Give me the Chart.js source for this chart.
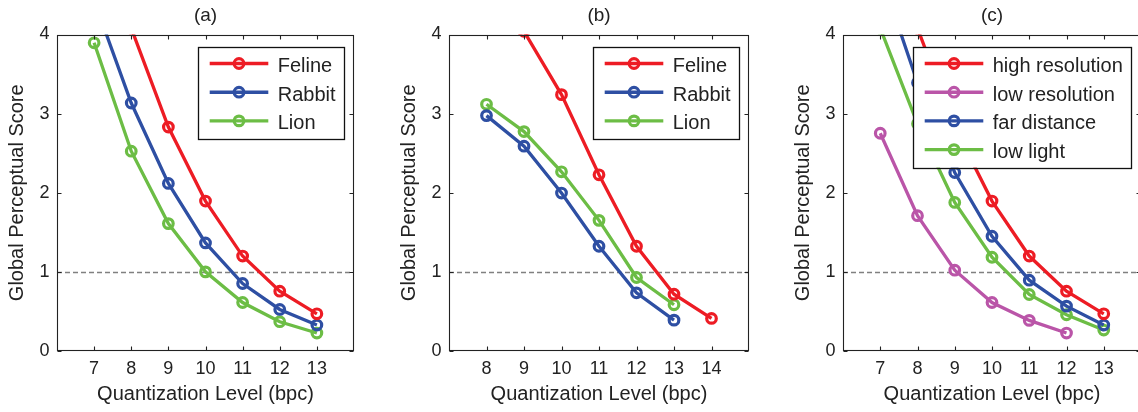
<!DOCTYPE html>
<html><head><meta charset="utf-8">
<script src="https://cdn.jsdelivr.net/npm/chart.js@4.4.1/dist/chart.umd.min.js"></script>
<style>
html,body{margin:0;padding:0;width:1138px;height:412px;overflow:hidden;background:#fff;}
canvas{position:absolute;top:0;}
</style></head><body>
<canvas id="ca" style="left:0px" width="364" height="412"></canvas>
<canvas id="cb" style="left:392px" width="367" height="412"></canvas>
<canvas id="cc" style="left:786px" width="365" height="412"></canvas>
<script>
// ---- data ----
const panelTitles = ['(a)', '(b)', '(c)'];
const xAxisTitle = 'Quantization Level (bpc)';
const yAxisTitle = 'Global Perceptual Score';
const yTicks = [0, 1, 2, 3, 4];
const xTicksA = [7, 8, 9, 10, 11, 12, 13];
const xTicksB = [8, 9, 10, 11, 12, 13, 14];
const xTicksC = [7, 8, 9, 10, 11, 12, 13];
const xRangeA = [6, 14];
const xRangeB = [7, 15];
const xRangeC = [6, 14];
const threshold = 1;

// panel (a)
const labelsA = ['Feline', 'Rabbit', 'Lion'];
const felineA_x = [8, 9, 10, 11, 12, 13];
const felineA_y = [4.08, 2.83, 1.895, 1.20, 0.756, 0.47];
const rabbitA_x = [7, 8, 9, 10, 11, 12, 13];
const rabbitA_y = [4.43, 3.134, 2.118, 1.366, 0.853, 0.525, 0.328];
const lionA_x = [7, 8, 9, 10, 11, 12, 13];
const lionA_y = [3.895, 2.525, 1.61, 1.0, 0.613, 0.37, 0.227];

// panel (b)
const labelsB = ['Feline', 'Rabbit', 'Lion'];
const felineB_x = [9, 10, 11, 12, 13, 14];
const felineB_y = [4.04, 3.24, 2.227, 1.324, 0.718, 0.412];
const rabbitB_x = [8, 9, 10, 11, 12, 13];
const rabbitB_y = [2.975, 2.588, 1.996, 1.324, 0.735, 0.39];
const lionB_x = [8, 9, 10, 11, 12, 13];
const lionB_y = [3.118, 2.773, 2.265, 1.651, 0.929, 0.584];

// panel (c)
const labelsC = ['high resolution', 'low resolution', 'far distance', 'low light'];
const highRes_x = [8, 9, 10, 11, 12, 13];
const highRes_y = [4.08, 2.83, 1.895, 1.20, 0.756, 0.47];
const lowRes_x = [7, 8, 9, 10, 11, 12];
const lowRes_y = [2.752, 1.71, 1.021, 0.613, 0.387, 0.227];
const farDist_x = [7, 8, 9, 10, 11, 12, 13];
const farDist_y = [4.78, 3.39, 2.256, 1.45, 0.895, 0.567, 0.328];
const lowLight_x = [7, 8, 9, 10, 11, 12, 13];
const lowLight_y = [4.08, 2.872, 1.878, 1.185, 0.714, 0.458, 0.265];

// ---- styles ----
const RED = '#ED1C24', BLUE = '#2E4FA3', GREEN = '#6CBD45', MAGENTA = '#BA55A8';
const FONT = '"Liberation Sans", Arial, Helvetica, sans-serif';
Chart.defaults.font.family = FONT;
Chart.defaults.color = '#222';

function series(label, xs, ys, color) {
  return {
    label, borderColor: color, backgroundColor: color,
    data: xs.map((x, i) => ({x: x, y: ys[i]})),
    borderWidth: 3.3, tension: 0, clip: 0,
    pointRadius: 4.8, pointBorderWidth: 3.2,
    pointBackgroundColor: 'rgba(0,0,0,0)', pointBorderColor: color
  };
}

const framePlugin = {
  id: 'frame',
  beforeDatasetsDraw(chart) {
    const ctx = chart.ctx, ca = chart.chartArea, y = chart.scales.y;
    const py = Math.round(y.getPixelForValue(threshold)) + 0.5;
    ctx.save();
    ctx.strokeStyle = '#808080'; ctx.lineWidth = 1.3; ctx.setLineDash([5, 3]);
    ctx.beginPath(); ctx.moveTo(ca.left, py); ctx.lineTo(ca.right, py); ctx.stroke();
    ctx.restore();
  },
  afterDatasetsDraw(chart) {
    const ctx = chart.ctx, ca = chart.chartArea;
    const xs = chart.scales.x, ys = chart.scales.y;
    ctx.save();
    ctx.strokeStyle = '#222'; ctx.lineWidth = 1.1;
    const L = Math.round(ca.left) + 0.5, R = Math.round(ca.right) - 0.5;
    const T = Math.round(ca.top) + 0.5, B = Math.round(ca.bottom) - 0.5;
    ctx.strokeRect(L, T, R - L, B - T);
    const tl = 4;
    ctx.beginPath();
    xs.ticks.forEach(t => {
      const px = Math.round(xs.getPixelForValue(t.value)) + 0.5;
      ctx.moveTo(px, B); ctx.lineTo(px, B - tl);
      ctx.moveTo(px, T); ctx.lineTo(px, T + tl);
    });
    ys.ticks.forEach(t => {
      const py = Math.round(ys.getPixelForValue(t.value)) + 0.5;
      ctx.moveTo(L, py); ctx.lineTo(L + tl, py);
      ctx.moveTo(R, py); ctx.lineTo(R - tl, py);
    });
    ctx.stroke();

    // legend
    const ds = chart.data.datasets;
    ctx.font = '20px ' + FONT;
    const maxW = Math.max(...ds.map(d => ctx.measureText(d.label).width));
    const padL = 11.7, lineLen = 58.6, gap = 9.4, padR = 8;
    const w = padL + lineLen + gap + maxW + padR;
    const h = 16.5 + (ds.length - 1) * 28.7 + 18;
    const right = Math.round(ca.right - 10), top = Math.round(ca.top + 12);
    const left = Math.round(right - w);
    ctx.fillStyle = '#fff';
    ctx.fillRect(left, top, right - left, h);
    ctx.strokeStyle = '#111'; ctx.lineWidth = 1.3;
    ctx.strokeRect(left + 0.5, top + 0.5, right - left, Math.round(h));
    ds.forEach((d, i) => {
      const y = top + 16.5 + i * 28.7;
      const x0 = left + padL, x1 = x0 + lineLen;
      ctx.strokeStyle = d.borderColor; ctx.lineWidth = 3.4;
      ctx.beginPath(); ctx.moveTo(x0, y); ctx.lineTo(x1, y); ctx.stroke();
      ctx.lineWidth = 3.2;
      ctx.beginPath(); ctx.arc((x0 + x1) / 2, y, 4.8, 0, Math.PI * 2); ctx.stroke();
      ctx.fillStyle = '#222'; ctx.textBaseline = 'alphabetic'; ctx.textAlign = 'left';
      ctx.fillText(d.label, x1 + gap, y + 8.5);
    });
    ctx.restore();
  }
};

function makeChart(id, title, datasets, xRange, xTicks) {
  return new Chart(document.getElementById(id), {
    type: 'line',
    data: {datasets},
    plugins: [framePlugin],
    options: {
      responsive: false, animation: false, devicePixelRatio: 1,
      layout: {padding: {left: 0, right: 10, top: 0, bottom: 0}},
      plugins: {
        legend: {display: false}, tooltip: {enabled: false},
        title: {display: true, text: title, fullSize: false, color: '#222',
                font: {size: 19, weight: 'normal'}, padding: {top: 4.5, bottom: 7.2}}
      },
      scales: {
        x: {
          type: 'linear', min: xRange[0], max: xRange[1],
          afterBuildTicks: s => { s.ticks = xTicks.map(v => ({value: v})); },
          afterFit: s => { s.height = 61; },
          grid: {display: false, drawTicks: false}, border: {display: false},
          ticks: {font: {size: 18}, color: '#222', padding: 7.6, maxRotation: 0, autoSkip: false},
          title: {display: true, text: xAxisTitle, color: '#222', font: {size: 20}, padding: {top: 0, bottom: 6}}
        },
        y: {
          type: 'linear', min: 0, max: 4,
          afterBuildTicks: s => { s.ticks = yTicks.map(v => ({value: v})); },
          afterFit: s => { s.width = 57; },
          grid: {display: false, drawTicks: false}, border: {display: false},
          ticks: {font: {size: 18}, color: '#222', padding: 7.4},
          title: {display: true, text: yAxisTitle, color: '#222', font: {size: 20}, padding: {top: 5.5, bottom: 0}}
        }
      }
    }
  });
}

makeChart('ca', panelTitles[0], [
  series(labelsA[0], felineA_x, felineA_y, RED),
  series(labelsA[1], rabbitA_x, rabbitA_y, BLUE),
  series(labelsA[2], lionA_x, lionA_y, GREEN)
], xRangeA, xTicksA);

makeChart('cb', panelTitles[1], [
  series(labelsB[0], felineB_x, felineB_y, RED),
  series(labelsB[1], rabbitB_x, rabbitB_y, BLUE),
  series(labelsB[2], lionB_x, lionB_y, GREEN)
], xRangeB, xTicksB);

makeChart('cc', panelTitles[2], [
  series(labelsC[0], highRes_x, highRes_y, RED),
  series(labelsC[1], lowRes_x, lowRes_y, MAGENTA),
  series(labelsC[2], farDist_x, farDist_y, BLUE),
  series(labelsC[3], lowLight_x, lowLight_y, GREEN)
], xRangeC, xTicksC);
</script>
</body></html>
